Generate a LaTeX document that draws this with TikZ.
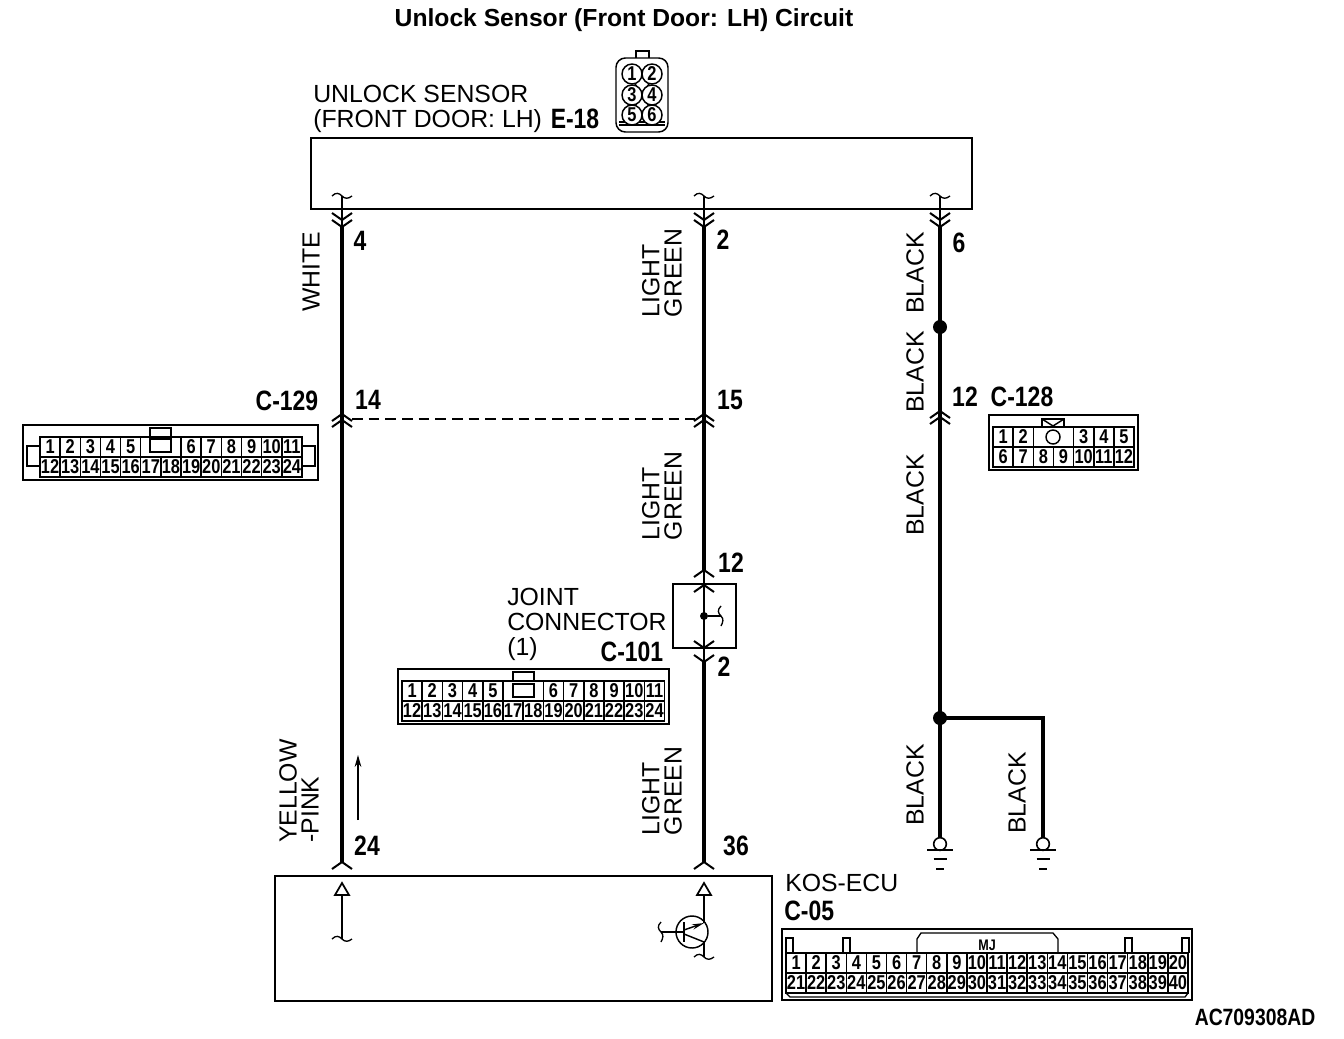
\documentclass[tikz,border=0pt]{standalone}
\usepackage{fontspec}
\setmainfont{Liberation Sans}
\newfontfamily\nbf{Liberation Sans}[FakeStretch=0.82]
\usetikzlibrary{arrows.meta}
\newcommand{\lblfont}{\fontsize{18.6pt}{16.6pt}\selectfont}
\newcommand{\numfont}{\nbf\bfseries\fontsize{21pt}{22pt}\selectfont}
\newcommand{\cellfont}{\nbf\bfseries\fontsize{15pt}{16pt}\selectfont}
\newcommand{\cellrow}[5]{% prefix, x0, w, y, list c/t
  \foreach \c/\t in {#5}{
    \node[cellbox,minimum width=#3*0.75pt] (#1\t) at ({#2+(\c+.5)*#3},#4) {\t};
  }
}
\tikzset{
  x=0.75pt,y=-0.75pt,
  line cap=butt,
  boxline/.style={line width=1.6pt},
  thinline/.style={line width=1pt},
  wire/.style={line width=3.5pt},
  branch/.style={line width=2.6pt},
  lbl/.style={font=\lblfont,inner sep=0pt},
  vlbl/.style={font=\lblfont,inner sep=0pt,rotate=90,align=left},
  num/.style={font=\numfont,inner sep=0pt},
  cellbox/.style={draw,line width=1.1pt,font=\cellfont,minimum height=15pt,inner sep=0pt},
  dotnode/.style={circle,fill=black,inner sep=0pt,minimum size=10.5pt},
  smalldot/.style={circle,fill=black,inner sep=0pt,minimum size=6pt},
  gnd/.style={circle,draw,fill=white,line width=1.2pt,inner sep=0pt,minimum size=9.5pt},
  pinball/.style={circle,draw,line width=1.1pt,font=\cellfont,inner sep=0pt,minimum size=15pt},
  upchev/.pic={\draw[line width=1.5pt] (-10,7) -- (0,0) -- (10,7);},
  downchev/.pic={\draw[line width=1.5pt] (-10,-7) -- (0,0) -- (10,-7);},
  squig/.pic={\draw[thinline] (-10,0) .. controls (-6,-4) and (-3,-3) .. (0,0) .. controls (3,3) and (6,3) .. (10,0);},
  vsquig/.pic={\draw[thinline] (0,-10) .. controls (-4,-6) and (-3,-3) .. (0,0) .. controls (3,3) and (2,6) .. (0,10);},
}
\begin{document}
\begin{tikzpicture}
\useasboundingbox (0,0) rectangle (1344,1038);
\node[inner sep=0pt,font=\bfseries\fontsize{18.5pt}{20pt}\selectfont] (title) at (624,20) {Unlock Sensor (Front Door: LH) Circuit};

% main boxes
\node[boxline,draw,minimum width=495.75pt,minimum height=53.25pt,inner sep=0pt] (sensor) at (641.5,173.5) {};
\node[boxline,draw,minimum width=372.75pt,minimum height=93.75pt,inner sep=0pt] (ecu) at (523.5,938.5) {};
\node[draw,line width=1.3pt,minimum width=47.25pt,minimum height=48pt,inner sep=0pt] (joint) at (704.5,616) {};

% sensor labels
\node[lbl,align=left,anchor=north west,font=\fontsize{18.6pt}{18.6pt}\selectfont] (sensorname) at (313,85) {UNLOCK SENSOR\\(FRONT DOOR: LH)};
\node[num] (e18) at (575,119) {E-18};

% E-18 connector
\draw[line width=1.1pt,rounded corners=7pt] (616,58) rectangle (668,132);
\draw[line width=1.1pt] (636,58) |- (649,51) -- (649,58);
\draw[line width=1.1pt] (619,122) -- (665,122) (619,125) -- (665,125);
\draw[line width=1.1pt] (625,68) -- (659,122) (659,68) -- (625,122);
\foreach \n/\a/\b in {1/632/74,2/652/74,3/632/95,4/652/95,5/632/115,6/652/115}{
  \node[pinball,fill=white] (ep\n) at (\a,\b) {\n};
}

% named points
\coordinate (w1top) at (342,196);
\coordinate (w1chev) at (342,227);
\coordinate (w1bot) at (342,862);
\coordinate (w2top) at (704,196);
\coordinate (w2chev) at (704,227);
\coordinate (w2a) at (704,570);
\coordinate (w2b) at (704,662);
\coordinate (w2bot) at (704,862);
\coordinate (w3top) at (940,196);
\coordinate (w3chev) at (940,227);
\coordinate (w3bot) at (940,840);
\coordinate (b1) at (940,718);
\coordinate (b2) at (1043,718);
\coordinate (b3) at (1043,840);

% wires
\draw[thinline] (w1top) -- (w1chev);
\draw[thinline] (w2top) -- (w2chev);
\draw[thinline] (w3top) -- (w3chev);
\draw[wire] (w1chev) -- (w1bot);
\draw[wire] (w2chev) -- (w2a);
\draw[thinline] (w2a) -- (w2b);
\draw[wire] (w2b) -- (w2bot);
\draw[wire] (w3chev) -- (w3bot);
\draw[branch] (b1) -- (b2) -- (b3);

% squiggles
\path (w1top) pic {squig};
\path (w2top) pic {squig};
\path (w3top) pic {squig};

% chevrons, top
\foreach \x in {342,704,940}{
  \path (\x,220) pic {downchev};
  \path (\x,227) pic {downchev};
}
% chevrons C-129 / C-128
\path (342,414) pic {upchev};
\path (342,420) pic {upchev};
\path (704,414) pic {upchev};
\path (704,420) pic {upchev};
\path (940,411) pic {upchev};
\path (940,417) pic {upchev};
% joint chevrons
\path (704,570) pic {upchev};
\path (704,585) pic {upchev};
\path (704,648) pic {downchev};
\path (704,662) pic {downchev};
% bottom chevrons
\path (342,862) pic {upchev};
\path (704,862) pic {upchev};

% dashed link
\coordinate (da) at (352,419);
\coordinate (db) at (695,419);
\draw[dash pattern=on 8pt off 4.5pt,line width=1.1pt] (da) -- (db);

% joint inner
\node[smalldot] (jd) at (704,616) {};
\coordinate (js) at (721,616);
\draw[line width=1.2pt] (jd) -- (js);
\path (js) pic {vsquig};

% dots
\node[dotnode] (d1) at (940,327) {};
\node[dotnode] (d2) at (b1) {};

% grounds
\foreach \x/\n in {940/ga,1043/gb}{
  \node[gnd] (\n) at (\x,844) {};
  \draw[line width=1.2pt] (\x-13,850) -- (\x+13,850);
  \draw[line width=1.2pt] (\x-6.5,859) -- (\x+6.5,859);
  \draw[line width=1.2pt] (\x-4,869) -- (\x+4,869);
}

% ECU interior
\coordinate (e1a) at (342,895);
\coordinate (e1b) at (342,939);
\draw[line width=1.3pt,fill=white] (342,883) -- (349,895) -- (335,895) -- cycle;
\draw[line width=1.3pt] (e1a) -- (e1b);
\path (e1b) pic {squig};
\coordinate (e2a) at (704,895);
\coordinate (e2b) at (704,957);
\draw[line width=1.3pt,fill=white] (704,883) -- (711,895) -- (697,895) -- cycle;
\draw[line width=1.1pt] (e2a) -- (704,923) (704,942) -- (e2b);
\path (e2b) pic {squig};
\node[circle,draw,line width=1.1pt,minimum size=24pt,inner sep=0pt] (tr) at (692,932) {};
\coordinate (bs) at (661,932);
\draw[line width=1.1pt] (bs) -- (684,932);
\path (bs) pic {vsquig};
\draw[line width=1.3pt] (684,922) -- (684,942);
\draw[line width=1.1pt,-{Stealth[length=9pt,width=4pt]}] (684,930) -- (704,923);
\draw[line width=1.1pt] (684,934) -- (704,942);

% small arrow
\coordinate (aa) at (358,820);
\coordinate (ab) at (358,755);
\draw[line width=.8pt,-{Stealth[length=9pt,width=5pt]}] (aa) -- (ab);

% wire labels
\node[vlbl] (lw) at (311,272) {WHITE};
\node[vlbl] (lg1) at (662,273) {LIGHT\\GREEN};
\node[vlbl] (lg2) at (662,496) {LIGHT\\GREEN};
\node[vlbl] (lg3) at (662,791) {LIGHT\\GREEN};
\node[vlbl] (lb1) at (915,273) {BLACK};
\node[vlbl] (lb2) at (915,372) {BLACK};
\node[vlbl] (lb3) at (915,495) {BLACK};
\node[vlbl] (lb4) at (915,785) {BLACK};
\node[vlbl] (lb5) at (1017,793) {BLACK};
\node[vlbl] (ly) at (299,791) {YELLOW\\-PINK};

% pin numbers
\node[num] (n4) at (360,241) {4};
\node[num] (n2) at (723,240) {2};
\node[num] (n6) at (959,243) {6};
\node[num] (n14) at (368,400) {14};
\node[num] (n15) at (730,400) {15};
\node[num] (n12) at (965,397) {12};
\node[num] (c128l) at (1022,397) {C-128};
\node[num] (c129l) at (287,401) {C-129};
\node[num] (n12b) at (731,563) {12};
\node[num] (n2b) at (724,667) {2};
\node[num] (c101l) at (632,652) {C-101};
\node[num] (n24) at (367,846) {24};
\node[num] (n36) at (736,846) {36};
\node[num,anchor=west] (c05l) at (784,911) {C-05};
\node[lbl,anchor=west] (kos) at (785,883) {KOS-ECU};
\node[lbl,anchor=west] (jt1) at (507,597) {JOINT};
\node[lbl,anchor=west] (jt2) at (507,622) {CONNECTOR};
\node[lbl,anchor=west] (jt3) at (507,649) {(1)};
\node[inner sep=0pt,font=\nbf\bfseries\fontsize{17.7pt}{19pt}\selectfont] (code) at (1255,1017) {AC709308AD};

% C-129
\draw[boxline] (23,425) rectangle (318,480);
\draw[line width=1pt] (40,446) -| (27,466) -- (40,466);
\draw[line width=1pt] (302,446) -| (315,466) -- (302,466);
\cellrow{ca}{40}{20.15}{447}{0/1,1/2,2/3,3/4,4/5,7/6,8/7,9/8,10/9,11/10,12/11}
\node[cellbox,minimum width=30.2pt] (cagap) at (160.8,447) {};
\cellrow{cb}{40}{20.15}{467}{0/12,1/13,2/14,3/15,4/16,5/17,6/18,7/19,8/20,9/21,10/22,11/23,12/24}
\draw[line width=1pt] (150,437) |- (171,428) -- (171,437);
\draw[line width=1.1pt] (150,439) rectangle (171,452);

% C-101
\draw[boxline] (398,669) rectangle (669,724);
\cellrow{dd}{402}{20.2}{691}{0/1,1/2,2/3,3/4,4/5,7/6,8/7,9/8,10/9,11/10,12/11}
\node[cellbox,minimum width=30.3pt] (ddgap) at (523.2,691) {};
\cellrow{de}{402}{20.2}{711}{0/12,1/13,2/14,3/15,4/16,5/17,6/18,7/19,8/20,9/21,10/22,11/23,12/24}
\draw[line width=1pt] (513,681) |- (534,672) -- (534,681);
\draw[line width=1.1pt] (513,684) rectangle (534,697);

% C-128
\draw[boxline] (989,415) rectangle (1138,470);
\cellrow{ea}{993}{20.15}{437}{0/1,1/2,4/3,5/4,6/5}
\node[cellbox,minimum width=30.2pt] (eagap) at (1053.5,437) {};
\cellrow{eb}{993}{20.15}{457}{0/6,1/7,2/8,3/9,4/10,5/11,6/12}
\draw[line width=1.1pt] (1042,427) |- (1064,419) -- (1064,427);
\draw[line width=1.1pt] (1042,419) -- (1053,426) -- (1064,419);
\node[circle,draw,line width=1.1pt,minimum size=10.5pt,inner sep=0pt] (eakey) at (1053,437) {};

% C-05
\draw[boxline] (782,929) rectangle (1192,1000);
\cellrow{fa}{786}{20.1}{963}{0/1,1/2,2/3,3/4,4/5,5/6,6/7,7/8,8/9,9/10,10/11,11/12,12/13,13/14,14/15,15/16,16/17,17/18,18/19,19/20}
\cellrow{fb}{786}{20.1}{983}{0/21,1/22,2/23,3/24,4/25,5/26,6/27,7/28,8/29,9/30,10/31,11/32,12/33,13/34,14/35,15/36,16/37,17/38,18/39,19/40}
\foreach \x in {786,843,1125,1182}{
  \draw[line width=1pt] (\x,953) |- (\x+7,938) -- (\x+7,953);
}
\draw[line width=1pt] (917,953) -- (917,939) -- (921,933) -- (1053,933) -- (1058,939) -- (1058,953);
\node[inner sep=0pt,font=\nbf\bfseries\fontsize{11.5pt}{12pt}\selectfont] (mj) at (987,945) {MJ};
\draw[line width=1pt] (786,993) -- (790,997) -- (1185,997) -- (1188,993);
\end{tikzpicture}
\end{document}
